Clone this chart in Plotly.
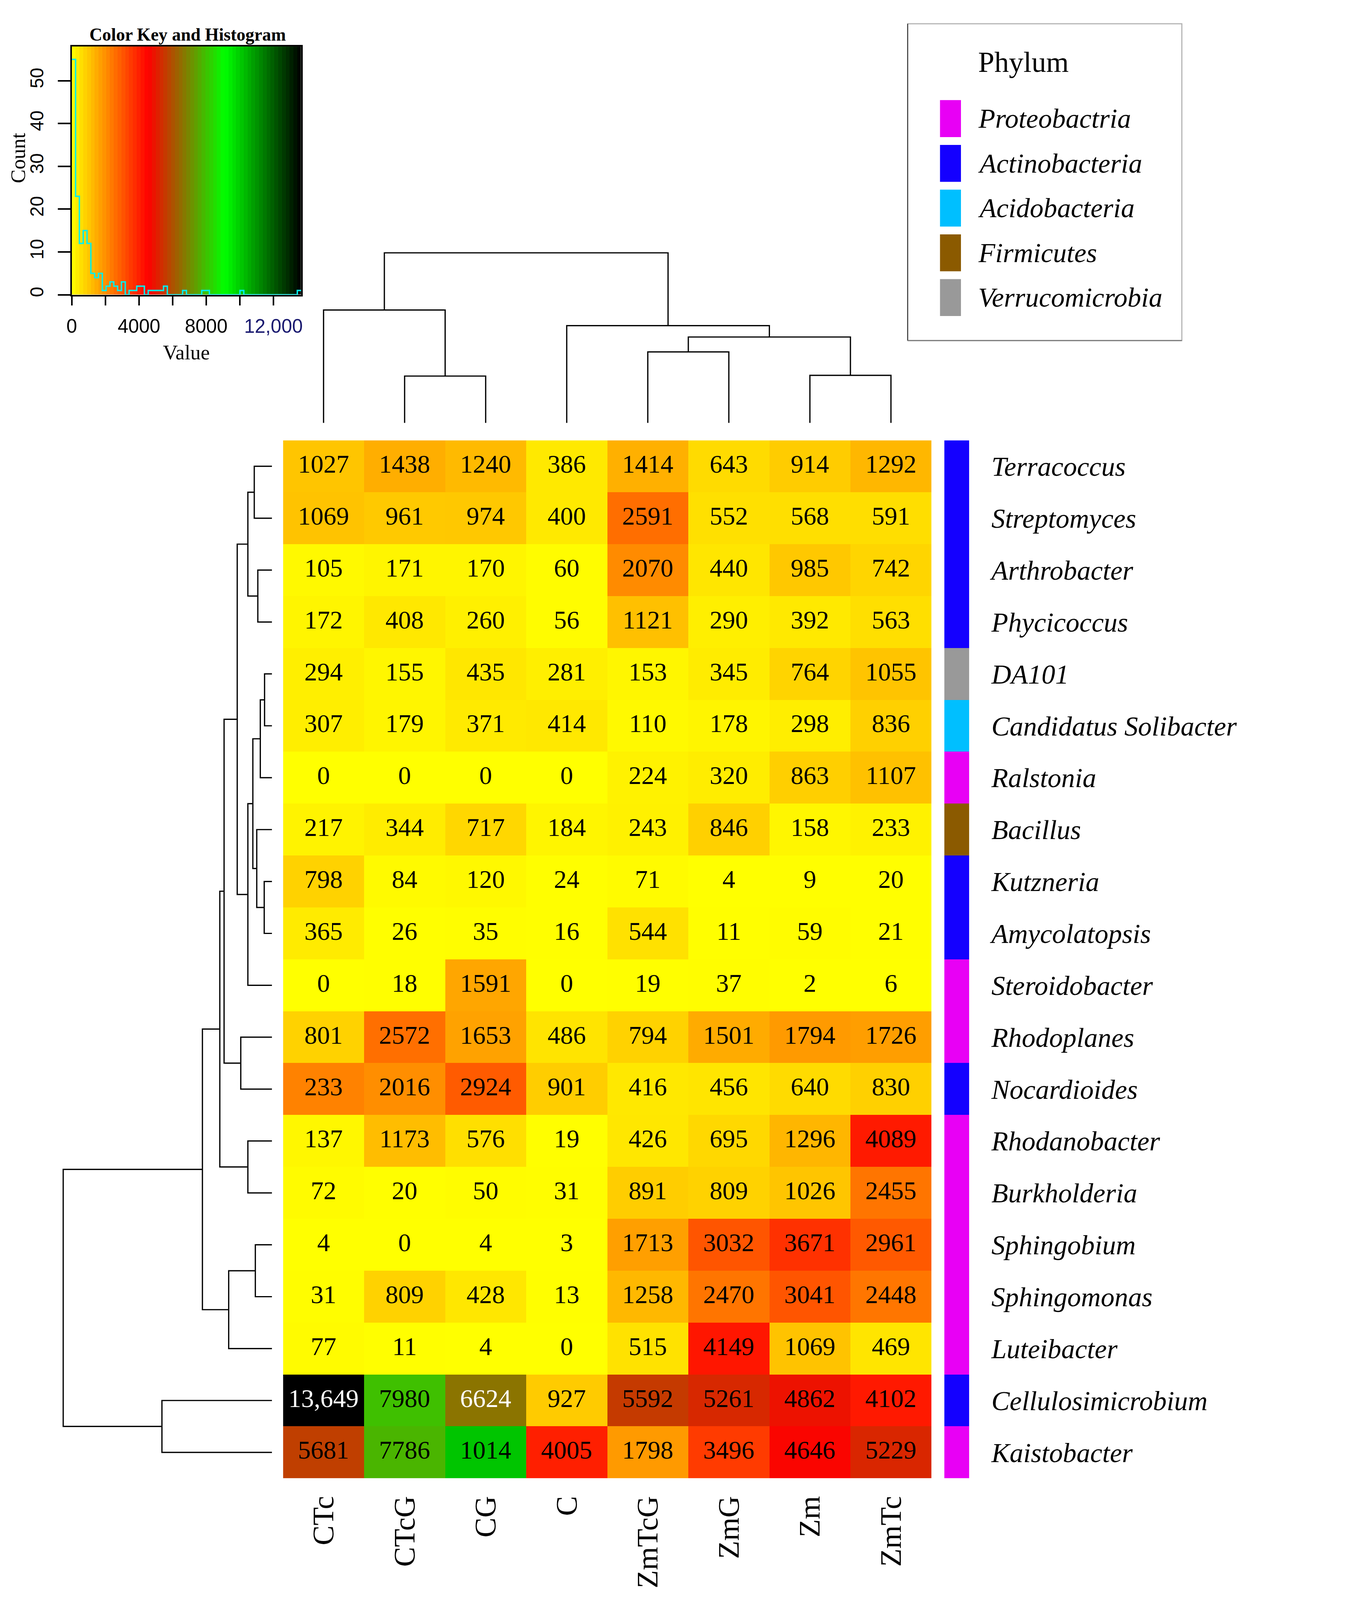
import numpy as np
import plotly.graph_objects as go

# ---- data ----
columns = ["CTc", "CTcG", "CG", "C", "ZmTcG", "ZmG", "Zm", "ZmTc"]

genera = ["Terracoccus", "Streptomyces", "Arthrobacter", "Phycicoccus", "DA101",
          "Candidatus Solibacter", "Ralstonia", "Bacillus", "Kutzneria", "Amycolatopsis",
          "Steroidobacter", "Rhodoplanes", "Nocardioides", "Rhodanobacter", "Burkholderia",
          "Sphingobium", "Sphingomonas", "Luteibacter", "Cellulosimicrobium", "Kaistobacter"]

values = [
    [1027, 1438, 1240, 386, 1414, 643, 914, 1292],
    [1069, 961, 974, 400, 2591, 552, 568, 591],
    [105, 171, 170, 60, 2070, 440, 985, 742],
    [172, 408, 260, 56, 1121, 290, 392, 563],
    [294, 155, 435, 281, 153, 345, 764, 1055],
    [307, 179, 371, 414, 110, 178, 298, 836],
    [0, 0, 0, 0, 224, 320, 863, 1107],
    [217, 344, 717, 184, 243, 846, 158, 233],
    [798, 84, 120, 24, 71, 4, 9, 20],
    [365, 26, 35, 16, 544, 11, 59, 21],
    [0, 18, 1591, 0, 19, 37, 2, 6],
    [801, 2572, 1653, 486, 794, 1501, 1794, 1726],
    [233, 2016, 2924, 901, 416, 456, 640, 830],
    [137, 1173, 576, 19, 426, 695, 1296, 4089],
    [72, 20, 50, 31, 891, 809, 1026, 2455],
    [4, 0, 4, 3, 1713, 3032, 3671, 2961],
    [31, 809, 428, 13, 1258, 2470, 3041, 2448],
    [77, 11, 4, 0, 515, 4149, 1069, 469],
    [13649, 7980, 6624, 927, 5592, 5261, 4862, 4102],
    [5681, 7786, 1014, 4005, 1798, 3496, 4646, 5229],
]

# cells whose colour in the figure does not follow the printed number
colour_override = {("Nocardioides", "CTc"): 2233, ("Kaistobacter", "CG"): 10140}
white_text = [("Cellulosimicrobium", "CTc"), ("Cellulosimicrobium", "CG")]

phyla = ["Proteobactria", "Actinobacteria", "Acidobacteria", "Firmicutes", "Verrucomicrobia"]
phylum_colors = ["#E800F5", "#1400FF", "#00BFFF", "#8B5A00", "#999999"]
genus_phylum = ["Actinobacteria", "Actinobacteria", "Actinobacteria", "Actinobacteria",
                "Verrucomicrobia", "Acidobacteria", "Proteobactria", "Firmicutes",
                "Actinobacteria", "Actinobacteria", "Proteobactria", "Proteobactria",
                "Actinobacteria", "Proteobactria", "Proteobactria", "Proteobactria",
                "Proteobactria", "Proteobactria", "Actinobacteria", "Proteobactria"]

# dendrograms: (merge height, left, right), leaves are display positions
col_tree = (479, (318, 0, (132, 1, 2)),
            (274, 3, (242, (200, 4, 5), (134, 6, 7))))
row_tree = (588,
            (196,
             (147,
              (135,
               (98,
                (68, (50, 0, 1), (40, 2, 3)),
                (68, (54, (33, (21, 4, 5), 6), (43, 7, (22, 8, 9))), 10)),
               (88, 11, 12)),
              (68, 13, 14)),
             (122, (47, 15, 16), 17)),
            (310, 18, 19))

n_breaks = 60

# ---- page geometry (the page is shown at ~1.1 device px per css px) ----
SHOT_W, SHOT_H = 3502, 4501
DPR = 1.1
OFF = 8
W = int(SHOT_W / DPR) - 2 * OFF
H = int(SHOT_H / DPR) - 2 * OFF
SERIF = "Liberation Serif"
SANS = "Liberation Sans"


def fx(p):
    return (p / DPR - OFF) / W


def fy(p):
    return 1 - (p / DPR - OFF) / H


def s(v):
    return v / DPR


def si(v):
    return int(round(v / DPR))


def dendro(tree):
    pos, hts = [], []

    def walk(node):
        if isinstance(node, int):
            return float(node), 0.0
        h, left, right = node
        pl, hl = walk(left)
        pr, hr = walk(right)
        pos.extend([pl, pl, pr, pr, None])
        hts.extend([hl, h, h, hr, None])
        return (pl + pr) / 2, h

    walk(tree)
    return pos, hts


colour_z = [[colour_override.get((g, c), v) for c, v in zip(columns, row)]
            for g, row in zip(genera, values)]
vmax = max(max(r) for r in colour_z)
key_scale = [[0, "#FFFF00"], [1 / 3, "#FF0000"], [2 / 3, "#00FF00"], [1, "#000000"]]

fig = go.Figure()

# main heatmap
fig.add_trace(go.Heatmap(z=colour_z, x=list(range(len(columns))), y=list(range(len(genera))),
                         colorscale=key_scale, zmin=0, zmax=vmax, showscale=False,
                         hoverinfo="skip", xaxis="x", yaxis="y"))

tx, ty, tt, tc = [], [], [], []
for i, g in enumerate(genera):
    for j, c in enumerate(columns):
        v = values[i][j]
        tx.append(j)
        ty.append(i)
        tt.append(f"{v:,}" if v >= 10000 else str(v))
        tc.append("white" if (g, c) in white_text else "black")
fig.add_trace(go.Scatter(x=tx, y=ty, text=tt, mode="text",
                         textfont=dict(family=SERIF, size=s(72), color=tc),
                         hoverinfo="skip", xaxis="x", yaxis="y"))

# phylum side bar
phylum_idx = [phyla.index(p) for p in genus_phylum]
n_ph = len(phyla)
side_scale = []
for k, col in enumerate(phylum_colors):
    side_scale += [[k / n_ph, col], [(k + 1) / n_ph, col]]
fig.add_trace(go.Heatmap(z=[[k] for k in phylum_idx], x=[0], y=list(range(len(genera))),
                         colorscale=side_scale, zmin=-0.5, zmax=n_ph - 0.5, showscale=False,
                         hoverinfo="skip", xaxis="x2", yaxis="y2"))

# dendrograms
cpos, chts = dendro(col_tree)
fig.add_trace(go.Scatter(x=cpos, y=chts, mode="lines", line=dict(color="black", width=s(3.5)),
                         hoverinfo="skip", xaxis="x3", yaxis="y3"))
rpos, rhts = dendro(row_tree)
fig.add_trace(go.Scatter(x=rhts, y=rpos, mode="lines", line=dict(color="black", width=s(3.5)),
                         hoverinfo="skip", xaxis="x4", yaxis="y4"))

# colour key + histogram
flat = [v for r in colour_z for v in r]
counts, edges = np.histogram(flat, bins=n_breaks, range=(0, vmax))
centres = ((edges[:-1] + edges[1:]) / 2).tolist()
fig.add_trace(go.Heatmap(z=[centres], x=edges.tolist(), y=[0, 58], colorscale=key_scale,
                         zmin=0, zmax=vmax, showscale=False, hoverinfo="skip",
                         xaxis="x5", yaxis="y5"))
fig.add_trace(go.Scatter(x=edges.tolist(), y=counts.tolist() + [int(counts[-1])], mode="lines",
                         line=dict(color="#00EEEE", width=s(4), shape="hv"),
                         hoverinfo="skip", xaxis="x5", yaxis="y5"))

hm_x = [fx(797), fx(2623)]
hm_y = [fy(4163), fy(1240)]
hidden = dict(visible=False, showgrid=False, zeroline=False)

fig.update_layout(
    width=W, height=H, margin=dict(l=0, r=0, t=0, b=0), autosize=False,
    paper_bgcolor="white", plot_bgcolor="white", showlegend=False,
    xaxis=dict(domain=hm_x, range=[-0.5, 7.5], anchor="y", tickvals=list(range(8)),
               ticktext=columns, tickangle=-90, ticks="", ticklabelstandoff=si(32),
               tickfont=dict(family=SERIF, size=s(84), color="black"),
               showgrid=False, zeroline=False, showline=False, automargin=False),
    yaxis=dict(domain=hm_y, range=[19.5, -0.5], anchor="x", showticklabels=False,
               ticks="", showgrid=False, zeroline=False, automargin=False),
    xaxis2=dict(domain=[fx(2659), fx(2729)], range=[-0.5, 0.5], anchor="y2", **hidden),
    yaxis2=dict(domain=hm_y, range=[19.5, -0.5], anchor="x2", side="right",
                tickvals=list(range(len(genera))), ticktext=[f"<i>{g}</i>" for g in genera],
                ticks="", ticklabelstandoff=si(62),
                tickfont=dict(family=SERIF, size=s(77), color="black"),
                showgrid=False, zeroline=False, showline=False, automargin=False),
    xaxis3=dict(domain=hm_x, range=[-0.5, 7.5], anchor="y3", **hidden),
    yaxis3=dict(domain=[fy(1191), fy(706)], range=[0, 485], anchor="x3", **hidden),
    xaxis4=dict(domain=[fx(172), fx(766)], range=[594, 0], anchor="y4", **hidden),
    yaxis4=dict(domain=hm_y, range=[19.5, -0.5], anchor="x4", **hidden),
    xaxis5=dict(domain=[fx(202), fx(848)], range=[0, vmax], anchor="y5",
                tickvals=[0, 2000, 4000, 6000, 8000, 10000, 12000],
                ticktext=["0", "", "4000", "", "8000", "",
                          '<span style="color:#1a1a70">12,000</span>'],
                ticks="outside", ticklen=si(26), tickwidth=s(4), tickcolor="black",
                ticklabelstandoff=si(12),
                tickfont=dict(family=SANS, size=s(54), color="black"),
                showline=True, mirror=True, linewidth=s(4), linecolor="black",
                showgrid=False, zeroline=False, automargin=False),
    yaxis5=dict(domain=[fy(830), fy(131)], range=[0, 58], anchor="x5",
                tickvals=[0, 10, 20, 30, 40, 50], tickangle=-90,
                ticks="outside", ticklen=si(35), tickwidth=s(4), tickcolor="black",
                ticklabelstandoff=si(20),
                tickfont=dict(family=SANS, size=s(52), color="black"),
                showline=True, mirror=True, linewidth=s(4), linecolor="black",
                showgrid=False, zeroline=False, automargin=False),
)


def note(text, x, y, size, xanchor="center", angle=0):
    return dict(text=text, x=fx(x), y=fy(y), xref="paper", yref="paper",
                xanchor=xanchor, yanchor="middle", textangle=angle, showarrow=False,
                font=dict(family=SERIF, size=s(size), color="black"))


annotations = [
    note("<b>Color Key and Histogram</b>", 529, 97, 50),
    note("Count", 50, 445, 58, angle=-90),
    note("Value", 525, 992, 58),
    note("Phylum", 2752, 175, 82, xanchor="left"),
]
shapes = [
    dict(type="rect", xref="paper", yref="paper", x0=fx(2556), x1=fx(3328), y0=fy(959), y1=fy(67),
         line=dict(color="#B0B0B0", width=s(3)), fillcolor="rgba(0,0,0,0)"),
    dict(type="line", xref="paper", yref="paper", x0=fx(2556), x1=fx(2556), y0=fy(959), y1=fy(67),
         line=dict(color="#444444", width=s(3))),
    dict(type="line", xref="paper", yref="paper", x0=fx(2556), x1=fx(3328), y0=fy(959), y1=fy(959),
         line=dict(color="#777777", width=s(3))),
]
for k, (name, col) in enumerate(zip(phyla, phylum_colors)):
    yc = 334 + k * 126
    shapes.append(dict(type="rect", xref="paper", yref="paper", x0=fx(2647), x1=fx(2706),
                       y0=fy(yc + 52), y1=fy(yc - 52), fillcolor=col, line=dict(width=0)))
    annotations.append(note(f"<i>{name}</i>", 2752, yc, 77, xanchor="left"))

fig.update_layout(annotations=annotations, shapes=shapes)
fig.write_html("out.html")
